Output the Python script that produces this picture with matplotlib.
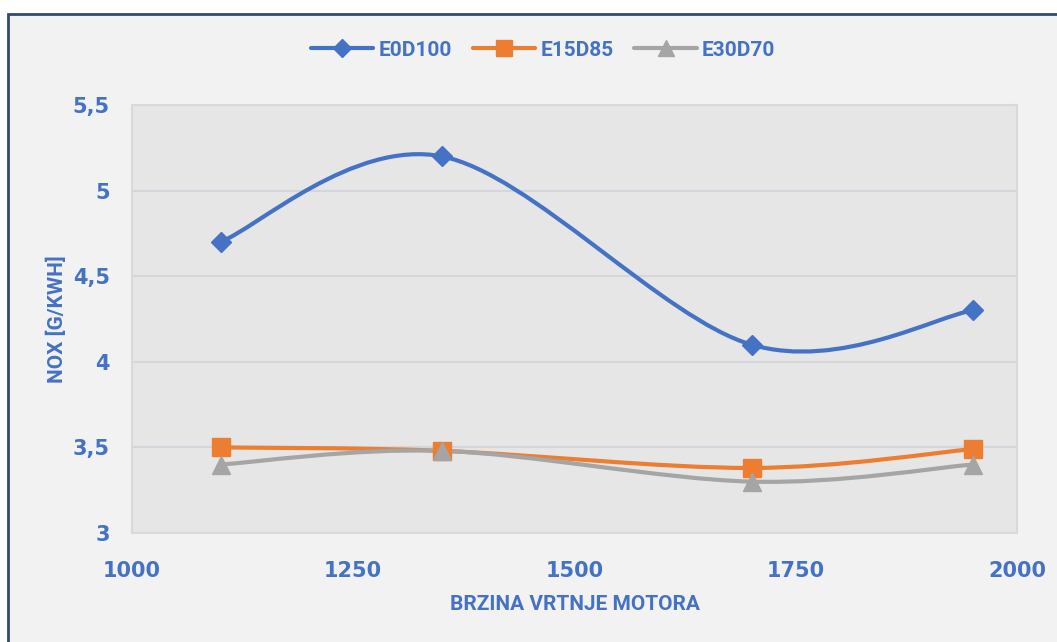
import numpy as np
import matplotlib.pyplot as plt
from matplotlib.path import Path
from matplotlib.patches import PathPatch, Rectangle
from matplotlib.lines import Line2D

speed = [1100, 1350, 1700, 1950]
e0d100 = [4.7, 5.2, 4.1, 4.3]
e15d85 = [3.5, 3.48, 3.38, 3.49]
e30d70 = [3.4, 3.48, 3.3, 3.4]

y_ticks = [3, 3.5, 4, 4.5, 5, 5.5]
y_ticklabels = ['3', '3,5', '4', '4,5', '5', '5,5']
x_ticks = [1000, 1250, 1500, 1750, 2000]

blue = '#4472C4'
orange = '#ED7D31'
grey = '#A5A5A5'
txt = '#4472C4'
lbl_font = 'Roboto'


def smooth_path(x, y):
    # excel style smoothed line: cubic bezier through the points
    p = np.column_stack([x, y]).astype(float)
    n = len(p)
    verts = [p[0]]
    codes = [Path.MOVETO]
    for i in range(n - 1):
        p0 = p[i - 1] if i > 0 else p[i]
        p3 = p[i + 2] if i + 2 < n else p[i + 1]
        c1 = p[i] + (p[i + 1] - p0) / 6
        c2 = p[i + 1] - (p3 - p[i]) / 6
        verts += [c1, c2, p[i + 1]]
        codes += [Path.CURVE4] * 3
    return Path(verts, codes)


fig = plt.figure(figsize=(10.57, 6.42), dpi=100)
fig.patch.set_facecolor('white')
fig.patches.append(Rectangle((8 / 1057, -0.05), 1.1, 1 - 14 / 642 + 0.05,
                             transform=fig.transFigure, facecolor='#F2F2F2',
                             edgecolor='#2F4A7A', linewidth=2, zorder=-10))

ax = fig.add_axes([132 / 1057, 1 - 533 / 642, (1017 - 132) / 1057, (533 - 105) / 642])
ax.set_facecolor('#E7E6E6')
for s in ax.spines.values():
    s.set_color('#D9D9D9')
    s.set_linewidth(1.5)

ax.set_xlim(1000, 2000)
ax.set_ylim(3, 5.5)
ax.set_yticks(y_ticks)
ax.set_yticklabels(y_ticklabels)
ax.set_xticks(x_ticks)
ax.tick_params(length=0, labelcolor=txt, labelsize=15)
ax.tick_params(axis='y', pad=16)
ax.tick_params(axis='x', pad=20)
for lab in ax.get_xticklabels() + ax.get_yticklabels():
    lab.set_fontweight('bold')
ax.grid(axis='y', color='#D5D5DC', linewidth=1.5)
ax.set_axisbelow(True)

series = [(e0d100, blue, 'D', 10, 'E0D100'),
          (e15d85, orange, 's', 13, 'E15D85'),
          (e30d70, grey, '^', 13, 'E30D70')]
handles = []
for vals, col, mk, ms, name in series:
    ax.add_patch(PathPatch(smooth_path(speed, vals), facecolor='none',
                           edgecolor=col, linewidth=3, capstyle='round', zorder=3))
    ax.plot(speed, vals, linestyle='none', marker=mk, markersize=ms,
            color=col, zorder=4)
    handles.append(Line2D([], [], color=col, linewidth=3, marker=mk,
                          markersize=ms - 1, solid_capstyle='round', label=name))

ax.set_xlabel('BRZINA VRTNJE MOTORA', color=txt, fontsize=15, fontweight='bold',
              family=lbl_font, labelpad=10)
ax.set_ylabel('NOX [G/KWH]', color=txt, fontsize=15, fontweight='bold',
              family=lbl_font, labelpad=4)

fig.legend(handles=handles, loc='center', bbox_to_anchor=(543 / 1057, 1 - 50 / 642),
           ncol=3, frameon=False, handlelength=3.0, columnspacing=1.0,
           handletextpad=0.25, prop={'family': lbl_font, 'weight': 'bold', 'size': 15},
           labelcolor=txt)

fig.savefig('out.png', dpi=100)
